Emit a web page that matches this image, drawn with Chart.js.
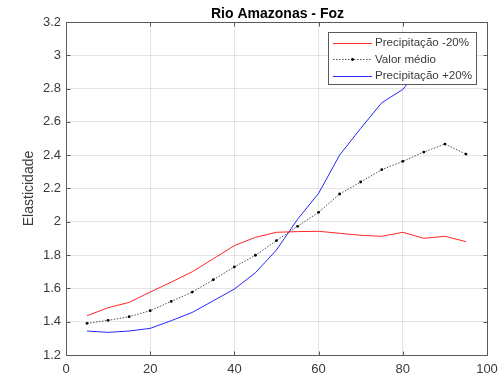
<!DOCTYPE html>
<html>
<head>
<meta charset="utf-8">
<script src="https://cdn.jsdelivr.net/npm/chart.js@4/dist/chart.umd.min.js"></script>
<style>
html,body{margin:0;padding:0;background:#fff;}
#wrap{width:501px;height:378px;position:relative;}
</style>
</head>
<body>
<div id="wrap"><canvas id="c" width="501" height="378"></canvas></div>
<script>
const chartTitle = 'Rio Amazonas - Foz';
const yAxisTitle = 'Elasticidade';
const xValues = [5,10,15,20,25,30,35,40,45,50,55,60,65,70,75,80,85,90,95];
const seriesNames = ['Precipitação -20%','Valor médio','Precipitação +20%'];
const precMinus20 = [1.436,1.484,1.516,1.578,1.638,1.700,1.778,1.857,1.907,1.937,1.941,1.943,1.931,1.919,1.913,1.937,1.901,1.913,1.881];
const valorMedio  = [1.390,1.408,1.430,1.466,1.522,1.578,1.652,1.729,1.799,1.887,1.973,2.057,2.167,2.239,2.313,2.363,2.419,2.467,2.407];
const precPlus20  = [1.344,1.336,1.344,1.360,1.406,1.456,1.526,1.596,1.694,1.831,2.015,2.171,2.401,2.561,2.715,2.795,2.950,3.050,3.100];
const xTicks = [0,20,40,60,80,100];
const yTickLabels = ['1.2','1.4','1.6','1.8','2','2.2','2.4','2.6','2.8','3','3.2'];

const FONT = '"Liberation Sans", Arial, Helvetica, sans-serif';
const AXC = '#3a3a3a';

function pts(arr){ return xValues.map((x,i)=>({x:x,y:arr[i]})); }

const matlabPlugin = {
  id:'matlab',
  afterDatasetsDraw(chart){
    const ctx = chart.ctx, a = chart.chartArea;
    const xs = chart.scales.x, ys = chart.scales.y;
    ctx.save();
    ctx.strokeStyle = '#5a5a5a'; ctx.lineWidth = 1;
    const L = Math.round(a.left)+0.5, R = Math.round(a.right)+0.5, T = Math.round(a.top)+0.5, B = Math.round(a.bottom)+0.5;
    ctx.beginPath(); ctx.rect(L, T, R-L, B-T); ctx.stroke();
    const tl = 4;
    ctx.beginPath();
    xTicks.forEach(v=>{
      const px = Math.round(xs.getPixelForValue(v))+0.5;
      ctx.moveTo(px,B); ctx.lineTo(px,B-tl);
      ctx.moveTo(px,T); ctx.lineTo(px,T+tl);
    });
    yTickLabels.forEach(s=>{
      const py = Math.round(ys.getPixelForValue(parseFloat(s)))+0.5;
      ctx.moveTo(L,py); ctx.lineTo(L+tl,py);
      ctx.moveTo(R,py); ctx.lineTo(R-tl,py);
    });
    ctx.stroke();
    ctx.fillStyle = '#000';
    ctx.font = 'bold 14px ' + FONT;
    ctx.textAlign = 'center'; ctx.textBaseline = 'middle';
    ctx.fillText(chartTitle, (a.left+a.right)/2 + 1, 14);
    ctx.save();
    ctx.translate(29, (a.top+a.bottom)/2);
    ctx.rotate(-Math.PI/2);
    ctx.font = '14px ' + FONT;
    ctx.fillStyle = AXC;
    ctx.fillText(yAxisTitle, 0, 0);
    ctx.restore();
    const lx = 328.5, ly = 32.5, lw = 148, lh = 52;
    ctx.fillStyle = '#fff';
    ctx.fillRect(lx, ly, lw, lh);
    ctx.strokeStyle = '#5a5a5a'; ctx.lineWidth = 1;
    ctx.strokeRect(lx, ly, lw, lh);
    const rows = [42.5, 59, 75.5];
    const ds = chart.data.datasets;
    ctx.font = '11.6px ' + FONT;
    ctx.textAlign = 'left'; ctx.textBaseline = 'middle';
    ds.forEach((d,i)=>{
      const y = rows[i];
      ctx.save();
      ctx.strokeStyle = d.borderColor; ctx.lineWidth = d.borderWidth;
      ctx.setLineDash(d.borderDash || []);
      ctx.beginPath(); ctx.moveTo(333, Math.round(y)+0.5); ctx.lineTo(372, Math.round(y)+0.5); ctx.stroke();
      ctx.restore();
      if (d.pointRadius > 0){
        ctx.fillStyle = d.pointBackgroundColor;
        ctx.beginPath(); ctx.arc(352.5, Math.round(y)+0.5, d.pointRadius, 0, Math.PI*2); ctx.fill();
      }
      ctx.fillStyle = AXC;
      ctx.fillText(d.label, 375, y+0.5);
    });
    ctx.restore();
  }
};

new Chart(document.getElementById('c'), {
  type:'line',
  data:{
    datasets:[
      {label:seriesNames[0], data:pts(precMinus20), borderColor:'rgba(255,0,0,0.85)', borderWidth:1, pointRadius:0, tension:0},
      {label:seriesNames[1], data:pts(valorMedio), borderColor:'rgba(40,40,40,0.8)', borderWidth:1, borderDash:[1.5,1.5], pointRadius:1.4, pointBackgroundColor:'#000', pointBorderWidth:0, tension:0},
      {label:seriesNames[2], data:pts(precPlus20), borderColor:'rgba(0,0,255,0.85)', borderWidth:1, pointRadius:0, tension:0}
    ]
  },
  options:{
    responsive:false, animation:false, devicePixelRatio:1,
    layout:{padding:{left:0,right:14,top:22,bottom:0}},
    plugins:{legend:{display:false}, title:{display:false}, tooltip:{enabled:false}},
    scales:{
      x:{type:'linear', min:0, max:100,
        afterBuildTicks(s){ s.ticks = xTicks.map(v=>({value:v})); },
        afterFit(s){ s.height = 23; s.paddingLeft = 0; s.paddingRight = 0; },
        grid:{color:'rgba(0,0,0,0.1)', drawTicks:false},
        border:{display:false},
        ticks:{padding:7, color:AXC, font:{family:FONT, size:13}, maxRotation:0, callback:(v)=>String(v)}
      },
      y:{type:'linear', min:1.2, max:3.2,
        afterBuildTicks(s){ s.ticks = yTickLabels.map(t=>({value:parseFloat(t)})); },
        afterFit(s){ s.width = 66; s.paddingTop = 0; s.paddingBottom = 0; },
        grid:{color:'rgba(0,0,0,0.1)', drawTicks:false},
        border:{display:false},
        ticks:{padding:5, color:AXC, font:{family:FONT, size:13},
          callback:(v)=>{ const i = yTickLabels.findIndex(t=>Math.abs(parseFloat(t)-v)<1e-6); return i>=0 ? yTickLabels[i] : ''; }}
      }
    }
  },
  plugins:[matlabPlugin]
});
</script>
</body>
</html>
